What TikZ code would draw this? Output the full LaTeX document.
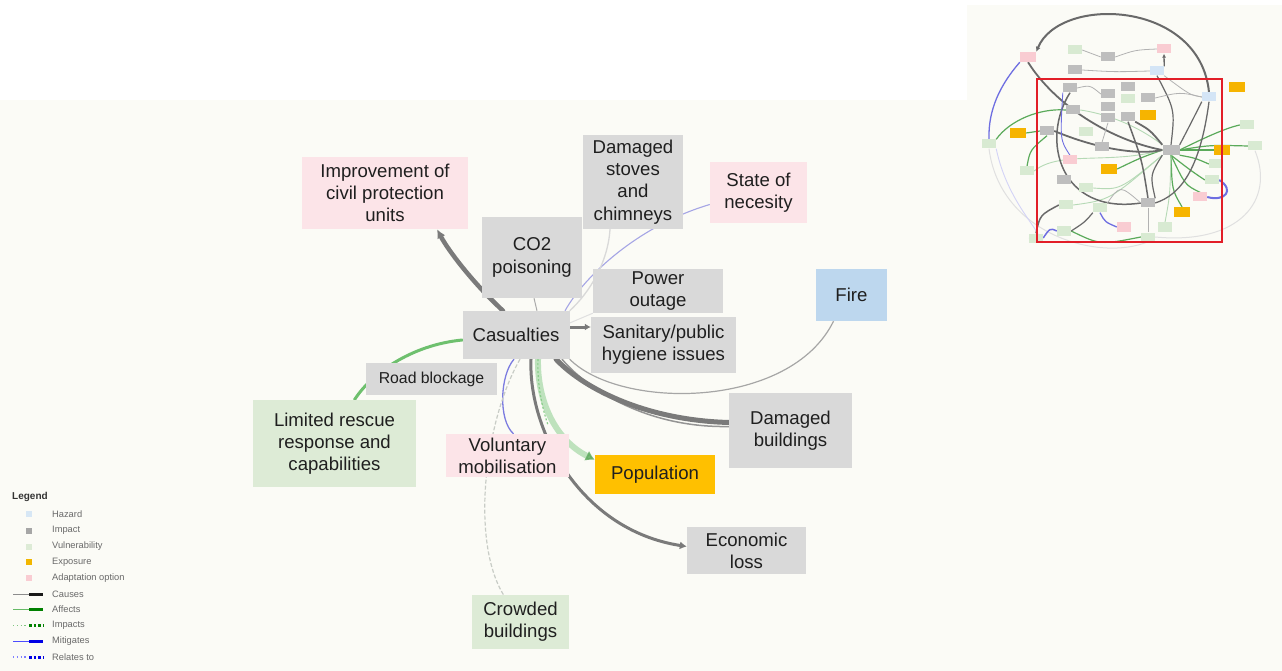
\documentclass[tikz,border=0pt]{standalone}
\usepackage{fontspec}
\setmainfont{Liberation Sans}
\usetikzlibrary{arrows.meta}

% node fills
\definecolor{canvas}{RGB}{251,251,246}
\definecolor{impactfill}{RGB}{217,217,217}
\definecolor{adaptfill}{RGB}{252,228,232}
\definecolor{vulnfill}{RGB}{221,235,214}
\definecolor{hazardfill}{RGB}{189,215,238}
\definecolor{exposurefill}{RGB}{255,192,0}
% connector colours
\definecolor{causeline}{RGB}{122,122,122}
\definecolor{causelight}{RGB}{170,170,170}
\definecolor{affectline}{RGB}{110,192,110}
\definecolor{impactline}{RGB}{180,222,180}
\definecolor{mitigline}{RGB}{124,124,224}
\definecolor{relateline}{RGB}{165,165,229}
% overview-map colours
\definecolor{mgray}{RGB}{190,190,190}
\definecolor{mpink}{RGB}{249,204,210}
\definecolor{mgreen}{RGB}{216,234,210}
\definecolor{morange}{RGB}{246,180,0}
\definecolor{mblue}{RGB}{212,229,246}
\definecolor{mdark}{RGB}{105,105,105}
\definecolor{mgline}{RGB}{90,170,90}
\definecolor{mbline}{RGB}{110,110,225}
\definecolor{frame}{RGB}{226,30,40}
% legend colours
\definecolor{legtext}{RGB}{105,105,105}

\pgfdeclarelayer{bglayer}
\pgfdeclarelayer{edgelayer}
\pgfsetlayers{bglayer,edgelayer,main}

\begin{document}
\begin{tikzpicture}[x=1pt,y=-1pt,
  box/.style={inner sep=0pt, align=center, text=black!88,
    font=\fontsize{18.6}{22.3}\selectfont},
  impact/.style={box, fill=impactfill},
  adapt/.style={box, fill=adaptfill},
  vuln/.style={box, fill=vulnfill},
  hazard/.style={box, fill=hazardfill},
  exposure/.style={box, fill=exposurefill},
  causes/.style={draw=causeline, line cap=round},
  affects/.style={draw=affectline, line width=3pt, line cap=round},
  mitigates/.style={draw=mitigline, line width=1.3pt},
  relates/.style={draw=relateline, line width=1.1pt},
  faint/.style={draw=black!15, line width=1.3pt},
  tip/.style={-{Latex[length=#1,width=#1]}},
  mini/.style={inner sep=0pt, minimum width=14pt, minimum height=9pt},
  mgrayb/.style={mini, fill=mgray},
  mpinkb/.style={mini, fill=mpink},
  mgreenb/.style={mini, fill=mgreen},
  morangeb/.style={mini, fill=morange, minimum width=16pt, minimum height=10pt},
  mblueb/.style={mini, fill=mblue},
  mcause/.style={draw=mdark, line width=1.5pt},
  mcauselt/.style={draw=black!30, line width=0.8pt},
  maffect/.style={draw=mgline, line width=1.2pt},
  maffectlt/.style={draw=mgline!45, line width=0.9pt},
  mmitig/.style={draw=mbline, line width=1.3pt},
  legsq/.style={inner sep=0pt, minimum size=6pt},
  legtxt/.style={anchor=west, inner sep=0pt, text=legtext,
    font=\fontsize{9.3}{11}\selectfont}
]
\useasboundingbox (0,0) rectangle (1282,671);

% ---------- backdrop ----------
\begin{pgfonlayer}{bglayer}
  \fill[canvas] (0,0) rectangle (1282,671);
  \fill[white] (0,0) rectangle (967,100);
  \fill[white] (967,0) rectangle (1282,5);
\end{pgfonlayer}

% ---------- main nodes ----------
\node[adapt, minimum width=166pt, minimum height=72pt] (imp) at (385,193)
  {Improvement of\\civil protection\\units};
\node[impact, minimum width=100pt, minimum height=81pt] (co2) at (532,257.5)
  {CO2\\poisoning};
\node[impact, minimum width=107pt, minimum height=48pt] (cas) at (516,335)
  {Casualties};
\node[impact, minimum width=100pt, minimum height=94pt] (stoves) at (633,182)
  {Damaged\\stoves\\and\\chimneys};
\node[adapt, minimum width=97pt, minimum height=61pt] (necess) at (758.5,192.5)
  {State of\\necesity};
\node[impact, minimum width=130pt, minimum height=44pt] (power) at (658,291)
  {Power\\outage};
\node[impact, minimum width=145pt, minimum height=56pt] (sanit) at (663.5,345)
  {Sanitary/public\\hygiene issues};
\node[hazard, minimum width=71pt, minimum height=52pt] (fire) at (851.5,295)
  {Fire};
\node[impact, minimum width=131pt, minimum height=32pt,
  font=\fontsize{15.8}{19}\selectfont] (road) at (431.5,379)
  {Road blockage};
\node[vuln, minimum width=163pt, minimum height=87pt] (limited) at (334.5,443.5)
  {Limited rescue\\response and\\capabilities};
\node[adapt, minimum width=123pt, minimum height=43pt] (volunt) at (507.5,455.5)
  {Voluntary\\mobilisation};
\node[exposure, minimum width=120pt, minimum height=39pt] (pop) at (655,474.5)
  {Population};
\node[impact, minimum width=123pt, minimum height=75pt] (dambuild) at (790.5,430.5)
  {Damaged\\buildings};
\node[impact, minimum width=119pt, minimum height=47pt] (econ) at (746.5,550.5)
  {Economic\\loss};
\node[vuln, minimum width=97pt, minimum height=54pt] (crowded) at (520.5,622)
  {Crowded\\buildings};

% ---------- main connectors ----------
\begin{pgfonlayer}{edgelayer}
  \draw[causes, line width=4.5pt, tip=9]
    ([xshift=-13]cas.north) .. controls (472,282) and (448,250) .. ([xshift=52]imp.south);
  \draw[causes, line width=3pt, -{Latex[length=6,width=7]}]
    ([yshift=8]cas.east) -- ([yshift=18]sanit.west);
  \draw[draw=causelight, line width=1pt]
    ([xshift=21]cas.north) -- ([xshift=2]co2.south);
  \draw[relates]
    ([xshift=49]cas.north) .. controls (585,275) and (640,225) .. ([yshift=-12]necess.west);
  \draw[faint]
    ([xshift=-23]stoves.south) .. controls (608,262) and (590,292) .. (cas.north east);
  \draw[draw=black!12, line width=1pt]
    ([yshift=12]cas.east) -- (power.south west);
  \draw[draw=black!35, line width=1.2pt]
    ([xshift=-18]fire.south) .. controls (790,410) and (620,410) .. (cas.south east);
  \draw[draw=black!42, line width=1.5pt]
    ([xshift=46]cas.south) .. controls (590,392) and (650,428) .. ([yshift=4]dambuild.west);
  \draw[causes, line width=5pt]
    ([xshift=40]cas.south) .. controls (580,385) and (640,420) .. ([yshift=8]dambuild.west);
  \draw[causes, line width=3pt, -{Latex[length=7,width=8]}]
    ([xshift=15]cas.south) .. controls (528,430) and (580,530) .. ([yshift=4]econ.west);
  \draw[draw=impactline, line width=6pt, opacity=0.85,
        -{Latex[length=9,width=11,fill=affectline!90!black,color=affectline!90!black]}]
    ([xshift=22]cas.south) .. controls (537,400) and (555,440) .. ([yshift=-5]pop.north west);
  \draw[draw=affectline!80, line width=1.2pt, dash pattern=on 2pt off 2pt]
    ([xshift=22]cas.south) .. controls (537,380) and (541,405) .. (548,425);
  \draw[mitigates]
    ([xshift=6]volunt.north) .. controls (498,420) and (500,375) .. ([xshift=-2]cas.south);
  \draw[draw=vulnfill!60!black!45, line width=1.2pt, dash pattern=on 4pt off 2pt]
    ([xshift=4]cas.south) .. controls (485,420) and (470,540) .. ([xshift=-17]crowded.north);
  \draw[affects]
    ([xshift=20]limited.north) .. controls (370,375) and (410,345) .. ([yshift=-5]cas.west);
\end{pgfonlayer}

% ---------- overview map nodes ----------
\node[mpinkb, minimum width=16pt, minimum height=10pt] (ma) at (1028,57) {};
\node[mgreenb] (mb) at (1075,50) {};
\node[mgrayb] (mc) at (1108,57) {};
\node[mpinkb] (md) at (1164,49) {};
\node[mgrayb] (me) at (1075,70) {};
\node[mblueb] (mf) at (1157,71) {};
\node[morangeb] (mg) at (1237,87) {};
\node[mgrayb] (mh) at (1070,88) {};
\node[mgrayb] (mi) at (1108,94) {};
\node[mgrayb] (mj) at (1128,87) {};
\node[mgreenb] (mk) at (1128,99) {};
\node[mgrayb] (ml) at (1148,98) {};
\node[mblueb] (mm) at (1209,97) {};
\node[mgrayb] (mn) at (1073,110) {};
\node[mgrayb] (mo) at (1108,107) {};
\node[morangeb] (mp) at (1148,115) {};
\node[mgrayb] (mq) at (1108,118) {};
\node[mgrayb] (mr) at (1128,117) {};
\node[mgreenb] (ms) at (1247,125) {};
\node[morangeb] (mt) at (1018,133) {};
\node[mgrayb] (mu) at (1047,131) {};
\node[mgreenb] (mv) at (1086,132) {};
\node[mgreenb] (mw) at (989,144) {};
\node[mgrayb] (mx) at (1102,147) {};
\node[mgrayb, minimum width=17pt, minimum height=10pt] (hub) at (1171,150) {};
\node[morangeb] (my) at (1222,150) {};
\node[mgreenb] (mz) at (1255,146) {};
\node[mpinkb] (n1) at (1070,160) {};
\node[morangeb] (n2) at (1109,169) {};
\node[mgreenb] (n3) at (1027,171) {};
\node[mgreenb] (n4) at (1216,164) {};
\node[mgrayb] (n5) at (1064,180) {};
\node[mgreenb] (n6) at (1086,188) {};
\node[mgreenb] (n7) at (1212,180) {};
\node[mpinkb] (n8) at (1200,197) {};
\node[mgrayb] (n9) at (1148,203) {};
\node[morangeb] (n10) at (1182,212) {};
\node[mgreenb] (n11) at (1066,205) {};
\node[mgreenb] (n12) at (1100,208) {};
\node[mpinkb] (n13) at (1124,227) {};
\node[mgreenb] (n14) at (1165,227) {};
\node[mgreenb] (n15) at (1064,231) {};
\node[mgreenb] (n16) at (1036,238) {};
\node[mgreenb] (n17) at (1148,237) {};

% ---------- overview map connectors ----------
\begin{pgfonlayer}{edgelayer}
  \draw[draw=black!12, line width=1pt]
    (mw.south) .. controls (1000,235) and (1100,262) .. (n17.south);
  \draw[draw=black!12, line width=1pt]
    (n17.east) .. controls (1240,245) and (1275,200) .. (mz.south);
  \draw[draw=mbline!30, line width=0.9pt]
    (mw.south east) .. controls (1010,215) and (1060,245) .. (n16.west);
  \draw[mcause, line width=2pt, -{Latex[length=5,width=5]}]
    (mm.north) .. controls (1200,0) and (1060,-5) .. (ma.north east);
  \draw[mcause, line width=1.8pt]
    (ma.south) .. controls (1055,105) and (1110,140) .. (hub.west);
  \draw[mmitig] (ma.south west) .. controls (1000,85) and (988,110) .. (mw.north);
  \draw[maffect] (mw.north east) .. controls (1010,120) and (1040,108) .. (mn.west);
  \draw[maffectlt] (hub.north west) .. controls (1130,120) and (1095,112) .. (mn.east);
  \draw[maffect] (hub.east) .. controls (1200,140) and (1225,128) .. (ms.west);
  \draw[maffect] (hub.east) .. controls (1210,145) .. (mz.west);
  \draw[maffect] (hub.east) -- (my.west);
  \draw[maffect] (hub.south east) .. controls (1195,158) .. (n4.west);
  \draw[maffect] (hub.south) .. controls (1190,170) .. (n7.west);
  \draw[maffect] (hub.south) .. controls (1185,185) .. (n8.north);
  \draw[maffect] (hub.south) .. controls (1172,190) .. (n10.north);
  \draw[maffectlt] (hub.south) .. controls (1170,195) .. (n14.north);
  \draw[maffect] (hub.west) .. controls (1140,158) .. (n2.east);
  \draw[maffectlt] (hub.south west) .. controls (1120,190) .. (n6.east);
  \draw[maffectlt] (hub.south west) .. controls (1110,200) .. (n11.east);
  \draw[maffectlt] (hub.west) .. controls (1110,165) and (1060,150) .. (n3.east);
  \draw[maffect] (mu.west) -- (mt.east);
  \draw[maffect] (n3.north) .. controls (1030,150) .. (mu.south);
  \draw[maffect] (n15.east) .. controls (1100,245) .. (n17.west);
  \draw[mcause, line width=1.8pt]
    (hub.north west) .. controls (1150,130) .. (mr.south east);
  \draw[mcause] (n9.north) .. controls (1142,160) .. (mr.south);
  \draw[mcause] (mh.south) .. controls (1040,140) and (1060,215) .. (n9.west);
  \draw[mcause, line width=1.8pt]
    (mu.east) .. controls (1100,150) and (1140,155) .. (hub.west);
  \draw[mcause, line width=1.2pt] (hub.north) .. controls (1175,110) .. (mf.south);
  \draw[mcause, line width=1.2pt] (mm.south west) .. controls (1190,125) .. (hub.north east);
  \draw[mcause, line width=1.3pt]
    (mm.south) .. controls (1200,170) and (1180,195) .. (n9.east);
  \draw[mcause, line width=1.2pt] (hub.south west) .. controls (1150,175) .. (n9.north east);
  \draw[mcauselt] (ml.east) .. controls (1180,92) .. (mm.west);
  \draw[mcauselt] (mc.east) .. controls (1135,50) .. (md.west);
  \draw[mcauselt] (me.east) .. controls (1115,72) .. (mf.west);
  \draw[mcauselt] (mb.east) -- (mc.west);
  \draw[mcauselt] (mh.east) .. controls (1090,85) .. (mi.west);
  \draw[mcauselt] (mf.south east) .. controls (1190,95) .. (mm.west);
  \draw[mcauselt] (mx.north) -- (mq.south);
  \draw[mcause, line width=1.3pt, -{Latex[length=4,width=4]}] (mf.north east) -- (md.south);
  \draw[mcause] (n16.north) .. controls (1040,215) .. (n11.west);
  \draw[mcause, line width=1.2pt] (n15.east) .. controls (1085,222) .. (n12.south west);
  \draw[mcauselt] (n12.north east) .. controls (1120,185) .. (n9.west);
  \draw[mcauselt] (n9.south) -- (n17.north);
  \draw[mmitig, line width=1.5pt] (n16.east) .. controls (1050,228) .. (n15.west);
  \draw[mmitig] (n12.south) .. controls (1105,222) .. (n13.west);
  \draw[mmitig, line width=2pt]
    (n7.east) .. controls (1235,190) and (1225,202) .. (n8.east);
  \draw[mmitig, line width=0.9pt] (n1.north) .. controls (1060,140) .. (mh.south west);
\end{pgfonlayer}
\draw[frame, line width=2pt] (1037,79) rectangle (1222,242);

% ---------- legend ----------
\node[anchor=west, inner sep=0pt, text=black!80,
  font=\bfseries\fontsize{10}{12}\selectfont] (legtitle) at (12,497) {Legend};
\node[legsq, fill=hazardfill!60] (lhaz) at (29,514) {};
\node[legsq, fill=black!35] (limp) at (29,530.5) {};
\node[legsq, fill=vulnfill] (lvul) at (29,546.5) {};
\node[legsq, fill=exposurefill!95!black] (lexp) at (29,562) {};
\node[legsq, fill=mpink] (lada) at (29,578) {};
\node[legtxt] (thaz) at (52,514) {Hazard};
\node[legtxt] (timp) at (52,530.5) {Impact};
\node[legtxt] (tvul) at (52,546.5) {Vulnerability};
\node[legtxt] (texp) at (52,562) {Exposure};
\node[legtxt] (tada) at (52,578) {Adaptation option};
\node[legtxt] (tcau) at (52,594) {Causes};
\node[legtxt] (taff) at (52,609.5) {Affects};
\node[legtxt] (tipc) at (52,625.5) {Impacts};
\node[legtxt] (tmit) at (52,641.5) {Mitigates};
\node[legtxt] (trel) at (52,657) {Relates to};
% legend line samples
\draw[black!45, line width=0.9pt] (13,594) -- (29,594);
\draw[black!90, line width=3pt] (29,594) -- (43,594);
\draw[green!55!black!60, line width=0.9pt] (13,609.5) -- (29,609.5);
\draw[green!50!black, line width=3pt] (29,609.5) -- (43,609.5);
\draw[green!55!black!50, line width=1.2pt, dash pattern=on 1.2pt off 2.6pt] (13,625.5) -- (28,625.5);
\draw[green!50!black, line width=3pt, dash pattern=on 2.8pt off 1.8pt] (29,625.5) -- (44,625.5);
\draw[blue!70, line width=0.9pt] (13,641.5) -- (29,641.5);
\draw[blue!90!black, line width=3pt] (29,641.5) -- (43,641.5);
\draw[blue!50, line width=1.2pt, dash pattern=on 1.2pt off 2.6pt] (13,657) -- (28,657);
\draw[blue!90!black, line width=3pt, dash pattern=on 2.8pt off 1.8pt] (29,657) -- (44,657);
\end{tikzpicture}
\end{document}
